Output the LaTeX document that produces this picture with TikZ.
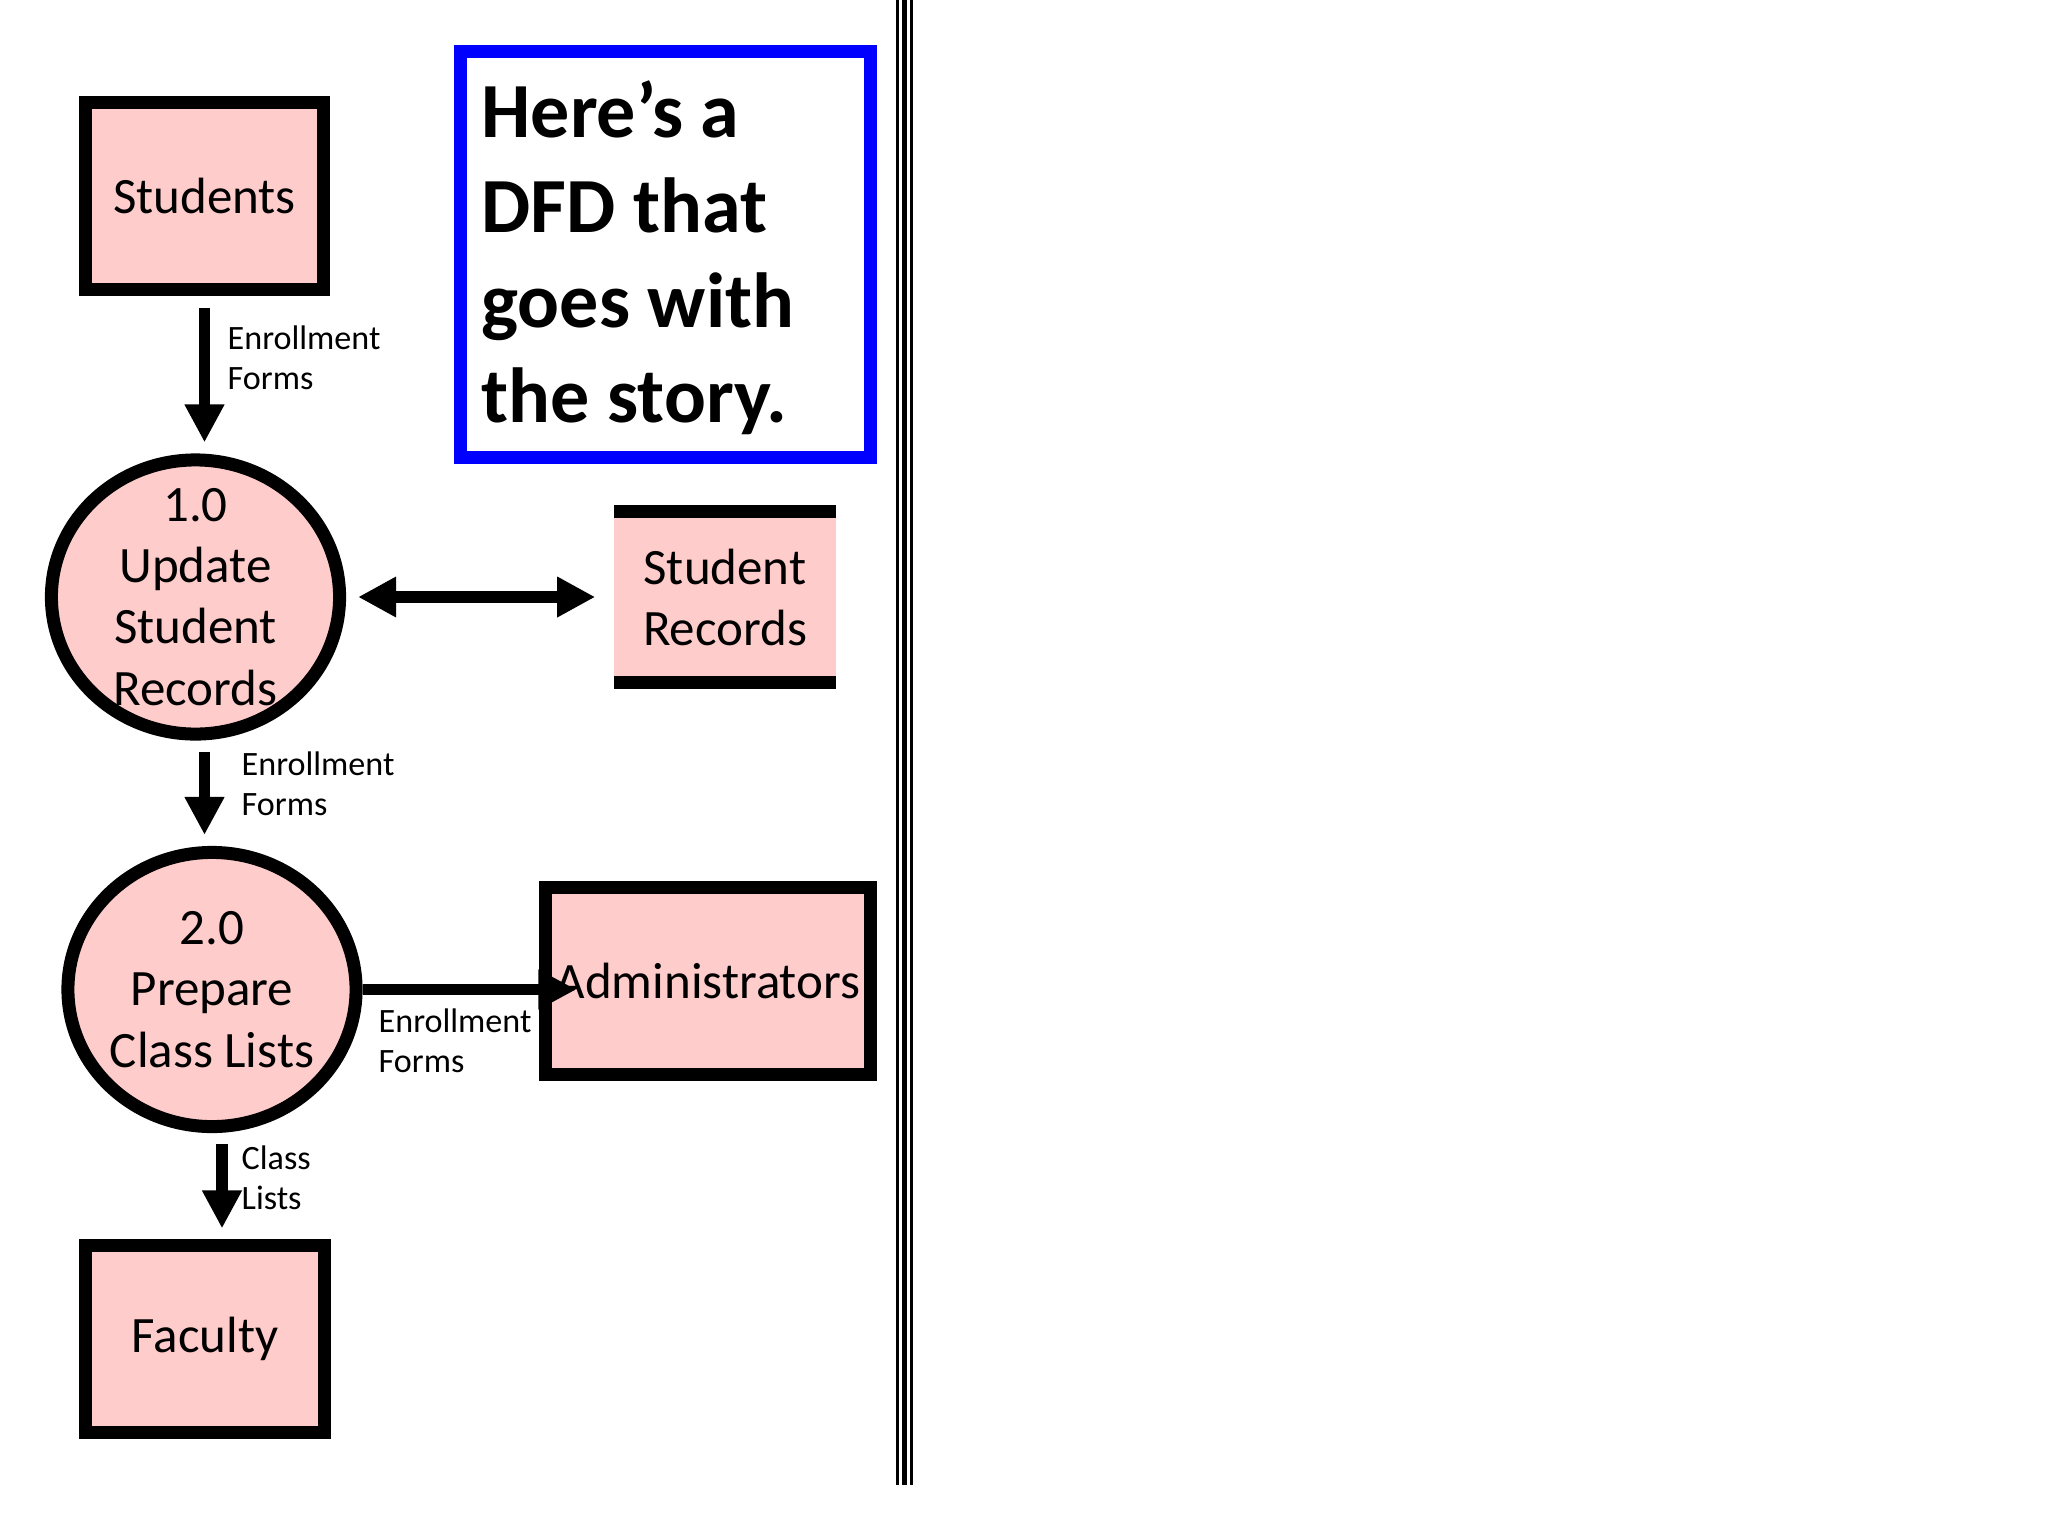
\documentclass[tikz,border=0pt]{standalone}
\usepackage{fontspec}
\setmainfont{Carlito}
\usetikzlibrary{arrows.meta,shapes.geometric,positioning}
\definecolor{dfdpink}{RGB}{255,204,204}
\definecolor{noteblue}{RGB}{0,0,255}

\begin{document}
\begin{tikzpicture}[x=0.01cm, y=-0.01cm,
    entity/.style={draw, fill=dfdpink, line width=3.7pt, inner sep=0pt,
      minimum width=2.38cm, minimum height=1.87cm, font=\fontsize{14.5}{17.4}\selectfont},
    process/.style={ellipse, draw, fill=dfdpink, line width=3.7pt, inner sep=0pt,
      minimum width=2.88cm, minimum height=2.74cm},
    proctext/.style={align=center, inner sep=0pt, font=\fontsize{14.5}{17.4}\selectfont},
    store/.style={fill=dfdpink, inner sep=0pt, align=center,
      minimum width=2.22cm, minimum height=1.835cm, font=\fontsize{14.5}{17.4}\selectfont,
      path picture={
        \fill[black] (path picture bounding box.north west) rectangle ([yshift=-0.13cm]path picture bounding box.north east);
        \fill[black] (path picture bounding box.south west) rectangle ([yshift=0.13cm]path picture bounding box.south east);}},
    flowlabel/.style={anchor=west, align=left, inner sep=0pt, font=\fontsize{9.7}{11.4}\selectfont},
    flow/.style={line width=3.3pt, -{Triangle[length=10.8pt,width=10.6pt]}},
    biflow/.style={line width=3.3pt, {Triangle[length=10.8pt,width=10.8pt]}-{Triangle[length=10.8pt,width=10.8pt]}}]
  \useasboundingbox (0,0) rectangle (2048,1536);
  \path (204.5, 196) node[entity] (students) {Students}
        (195.5, 597) node[process, label={[proctext]center:1.0\\Update\\Student\\Records}] (update) {}
        (725, 597.25) node[store] (records) {Student\\Records}
        (212, 989.5) node[process, label={[proctext]center:2.0\\Prepare\\Class Lists}] (prepare) {}
        (708, 981) node[entity, minimum width=3.24cm, minimum height=1.86cm] (admins) {Administrators}
        (205, 1339) node[entity] (faculty) {Faculty}
        (665.5, 254.5) node[draw=noteblue, line width=3.7pt, minimum width=4.1cm, minimum height=4.06cm,
          label={[anchor=north west, align=left, inner sep=0pt, xshift=0.27cm, yshift=-0.35cm,
            font=\fontsize{22.2}{27}\selectfont\bfseries]north west:Here’s a\\DFD that\\goes with\\the story.}] (note) {};
  \path (227, 358) node[flowlabel] (formsa) {Enrollment\\Forms}
        (241, 784) node[flowlabel] (formsb) {Enrollment\\Forms}
        (378, 1041) node[flowlabel] (formsc) {Enrollment\\Forms}
        (241, 1178) node[flowlabel] (lists) {Class\\Lists};
  \draw [flow, shorten <=0.115cm, shorten >=0.11cm] (students.south) to (students.south |- update.north);
  \draw [flow, shorten <=0.11cm, shorten >=0.11cm] (students.south |- update.south) to (students.south |- prepare.north);
  \draw [biflow, shorten <=0.12cm, shorten >=0.18cm] (update.east) to (update.east -| records.west);
  \draw [flow, shorten >=-0.37cm] (prepare.east) to (prepare.east -| admins.west);
  \draw [flow, shorten <=0.11cm, shorten >=0.105cm] ([xshift=0.1cm]prepare.south) to ([xshift=0.1cm]prepare.south |- faculty.north);
  \foreach \xx/\ww in {897.3/0.77pt, 904.5/1.6pt, 911.3/0.77pt}
    \draw [line width=\ww] (\xx, 0) -- (\xx, 1485);
\end{tikzpicture}
\end{document}
